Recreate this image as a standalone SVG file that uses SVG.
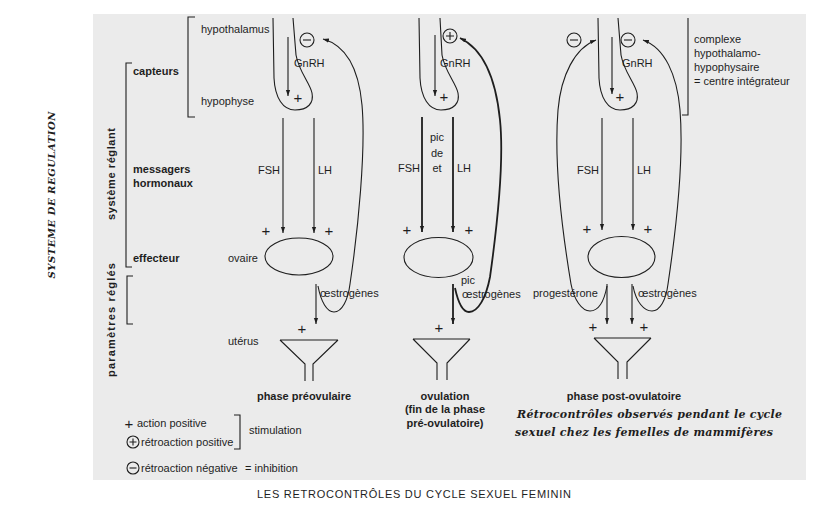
<svg xmlns="http://www.w3.org/2000/svg" width="816" height="508" viewBox="0 0 816 508">
<defs>
<style>
.t{font-family:"Liberation Sans",Arial,sans-serif;font-size:11px;fill:#1e1e1e}
.b{font-weight:bold}
.m{text-anchor:middle}
.p{font-family:"Liberation Sans",Arial,sans-serif;font-size:15px;fill:#1e1e1e;text-anchor:middle}
.ln{fill:none;stroke:#1e1e1e;stroke-width:1.1}
.th{fill:none;stroke:#1e1e1e;stroke-width:1.8}
.a{marker-end:url(#ah)}
.s{font-family:"DejaVu Serif","Liberation Serif",serif;font-weight:bold;font-style:italic;fill:#1e1e1e}
</style>
<marker id="ah" markerWidth="7" markerHeight="6" refX="6" refY="3" orient="auto" markerUnits="userSpaceOnUse">
<path d="M0,0.9 L6,3 L0,5.1 Z" fill="#1e1e1e"/>
</marker>
</defs>
<rect x="93" y="14" width="713" height="466" fill="#ebebeb"/>

<g id="labels">
<text class="t" x="201" y="33">hypothalamus</text>
<text class="t" x="201" y="105">hypophyse</text>
<path class="ln" d="M195,17 H188 V117 H195"/>
<text class="t b" x="133" y="75">capteurs</text>
<path class="ln" d="M132,63 H126 V267 H132"/>
<text class="t b" x="133" y="173">messagers</text>
<text class="t b" x="133" y="187">hormonaux</text>
<text class="t b" x="133" y="262">effecteur</text>
<path class="ln" d="M133,276 H127 V324 H133"/>
<text class="t b m" transform="translate(115,174) rotate(-90)" textLength="92">système réglant</text>
<text class="t b m" transform="translate(115,320) rotate(-90)" textLength="114">paramètres réglés</text>
<text class="s m" font-size="10" transform="translate(55,195) rotate(-90)" textLength="167">SYSTEME  DE  REGULATION</text>
<text class="t" x="228" y="262">ovaire</text>
<text class="t" x="228" y="345">utérus</text>
<text class="t" font-size="11.5" x="694" y="43">complexe</text>
<text class="t" font-size="11.5" x="694" y="57">hypothalamo-</text>
<text class="t" font-size="11.5" x="694" y="71">hypophysaire</text>
<text class="t" font-size="11.5" x="694" y="85">= centre intégrateur</text>
<path class="ln" d="M688,18 V115 H682"/>
</g>

<g id="col1">
<path class="ln" d="M273,18 L274,78 C275,98 283,110 295,110 C308,110 314,103 312,93 C310,83 299,72 296,55 L293,18"/>
<circle class="ln" cx="307" cy="40" r="7"/>
<path class="ln" d="M303,40 H311"/>
<text class="t" x="294" y="67">GnRH</text>
<text class="p" x="298" y="103">+</text>
<text class="t" x="258" y="174">FSH</text>
<text class="t" x="318" y="174">LH</text>
<text class="p" x="266" y="236">+</text>
<text class="p" x="329" y="236">+</text>
<ellipse class="ln" cx="299" cy="256.5" rx="34" ry="18.5" stroke-width="1.5"/>
<text class="t" x="320" y="297">œstrogènes</text>
<text class="p" x="302" y="334">+</text>
<path class="ln" d="M280,340 H338 M280,340 L305,364 V381 M338,340 L313,364 V381"/>
<text class="t b m" x="304" y="400">phase préovulaire</text>
</g>

<g id="col2">
<path class="ln" d="M419,18 L420,78 C421,98 429,110 441,110 C454,110 460,103 458,93 C456,83 445,72 442,55 L440,18"/>
<circle class="ln" cx="450" cy="36" r="7"/>
<path class="ln" d="M446,36 H454 M450,32 V40"/>
<text class="t" x="440" y="67">GnRH</text>
<text class="p" x="444" y="102">+</text>
<text class="t m" x="437" y="141">pic</text>
<text class="t m" x="437" y="157">de</text>
<text class="t m" x="437" y="172">et</text>
<text class="t" x="398" y="172">FSH</text>
<text class="t" x="457" y="172">LH</text>
<text class="p" x="407" y="235">+</text>
<text class="p" x="469" y="235">+</text>
<ellipse class="ln" cx="438.5" cy="257.5" rx="34.5" ry="20" stroke-width="1.6"/>
<text class="t" x="461" y="284">pic</text>
<text class="t" x="462" y="298">œstrogènes</text>
<text class="p" x="439" y="333">+</text>
<path class="ln" d="M413,339 H470 M413,339 L437,363 V380 M470,339 L447,363 V380"/>
<text class="t b m" x="445" y="400">ovulation</text>
<text class="t b m" x="445" y="413">(fin de la phase</text>
<text class="t b m" x="445" y="427">pré-ovulatoire)</text>
</g>

<g id="col3">
<path class="ln" d="M598,18 L599,78 C600,98 608,110 620,110 C633,110 639,103 637,93 C635,83 624,72 621,55 L618,18"/>
<circle class="ln" cx="574" cy="40" r="7"/>
<path class="ln" d="M570,40 H578"/>
<circle class="ln" cx="628" cy="40" r="7"/>
<path class="ln" d="M624,40 H632"/>
<text class="t" x="622" y="67">GnRH</text>
<text class="p" x="620" y="102">+</text>
<text class="t" x="577" y="174">FSH</text>
<text class="t" x="637" y="174">LH</text>
<text class="p" x="587" y="234">+</text>
<text class="p" x="648" y="234">+</text>
<ellipse class="ln" cx="621.5" cy="257" rx="33.5" ry="20.5" stroke-width="1.5"/>
<text class="t" x="533" y="297">progestérone</text>
<text class="t" x="638" y="297">œstrogènes</text>
<text class="p" x="593" y="332">+</text>
<text class="p" x="644" y="332">+</text>
<path class="ln" d="M594,338 H651 M594,338 L618,362 V379 M651,338 L627,362 V379"/>
<text class="t b m" x="624" y="400">phase post-ovulatoire</text>
</g>

<g id="connectors">
<path class="ln a" d="M288,37 V96"/>
<path class="ln a" d="M283,118 V233"/>
<path class="ln a" d="M314,118 V233"/>
<path class="ln a" d="M316,284 V324"/>
<path class="ln a" d="M318,286 C321,302 327,312 334,312 C342,312 348,300 350,284 C358,230 366,150 362,105 C359,72 348,46 323,39"/>
<path class="ln a" d="M435,35 V96"/>
<path class="th a" d="M422,117 V232"/>
<path class="th a" d="M453,117 V232"/>
<path class="th a" d="M453,284 V324"/>
<path class="th a" d="M455,288 C458,302 463,312 469,312 C478,312 486,298 490,277 C498,220 504,160 500,120 C496,80 485,50 460,38"/>
<path class="ln a" d="M612,37 V94"/>
<path class="ln a" d="M602,118 V230"/>
<path class="ln a" d="M633,118 V230"/>
<path class="ln a" d="M607,284 V324"/>
<path class="ln a" d="M632,284 V324"/>
<path class="ln a" d="M607,286 C604,302 598,311 590,311 C582,311 574,300 571,284 C562,230 554,160 558,110 C561,75 575,48 596,40"/>
<path class="ln a" d="M633,286 C636,302 644,311 652,311 C660,311 666,300 668,284 C676,230 684,160 680,110 C677,75 665,48 643,40"/>
</g>

<g id="legend">
<text class="p" x="129" y="429">+</text>
<text class="t" x="137" y="427">action positive</text>
<circle class="ln" cx="133" cy="442" r="6"/>
<path class="ln" d="M129.5,442 H136.5 M133,438.5 V445.5"/>
<text class="t" x="141" y="446">rétroaction positive</text>
<path class="ln" d="M234,415 H240 V449 H234"/>
<text class="t" x="249" y="434">stimulation</text>
<circle class="ln" cx="133" cy="468" r="6"/>
<path class="ln" d="M129.5,468 H136.5"/>
<text class="t" x="141" y="472">rétroaction négative</text>
<text class="t" x="245" y="472">= inhibition</text>
</g>

<g id="captions">
<text class="s" font-size="11" x="517" y="418" textLength="265">Rétrocontrôles observés pendant le cycle</text>
<text class="s" font-size="11" x="515" y="436" textLength="258">sexuel chez les femelles de mammifères</text>
<text class="t" x="257" y="498" textLength="314">LES RETROCONTRÔLES  DU CYCLE SEXUEL FEMININ</text>
</g>
</svg>
